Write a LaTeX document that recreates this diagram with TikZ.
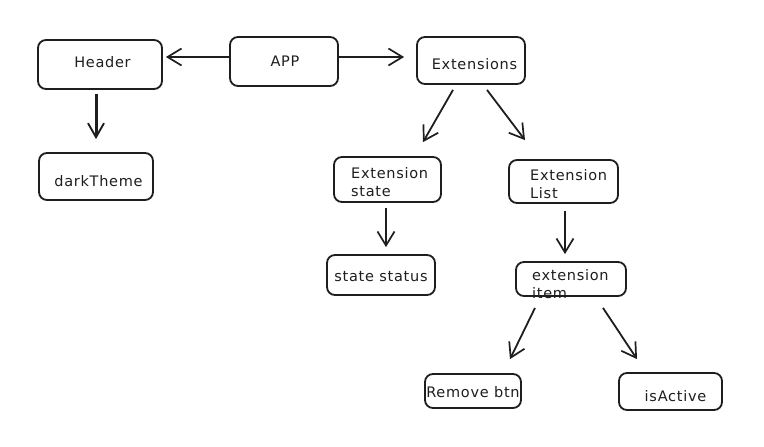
\documentclass[tikz,border=0pt]{standalone}
\usepackage{fontspec}
\setmainfont{DejaVu Sans}[LetterSpace=5]
\usetikzlibrary{arrows.meta}
\definecolor{ink}{HTML}{1E1E1E}
\tikzset{
  box/.style={draw=ink, line width=1.8pt, rounded corners=8pt, inner sep=0pt},
  lbl/.style={inner sep=0pt, text=ink, font=\fontsize{14.5}{18}\selectfont},
  arr/.style={draw=ink, line width=1.8pt, -{Straight Barb[length=14pt,width=17pt,line width=1.7pt]}},
  thickarr/.style={arr, line width=3pt, -{Straight Barb[length=14pt,width=16pt,line width=1.9pt]}}
}
\begin{document}
\begin{tikzpicture}[x=1pt,y=-1pt]
\useasboundingbox[fill=white] (0,0) rectangle (764,447);
% boxes
\node[box, minimum width=124pt, minimum height=49pt] (hdr) at (100,64.5) {};
\node[box, minimum width=108pt, minimum height=49pt] (app) at (284,61.5) {};
\node[box, minimum width=108pt, minimum height=47pt] (ext) at (471,60.5) {};
\node[box, minimum width=114pt, minimum height=47pt] (dk) at (96,176.5) {};
\node[box, minimum width=107pt, minimum height=45pt] (es) at (387.5,179.5) {};
\node[box, minimum width=108pt, minimum height=40pt] (ss) at (381,275) {};
\node[box, minimum width=109pt, minimum height=43pt] (el) at (563.5,181.5) {};
\node[box, minimum width=110pt, minimum height=34pt] (ei) at (571,279) {};
\node[box, minimum width=96pt, minimum height=34pt] (rb) at (473,391) {};
\node[box, minimum width=103pt, minimum height=37pt] (ia) at (670.5,391.5) {};
% texts
\node[lbl] (thdr) at (102.5,62.5) {Header};
\node[lbl] (tapp) at (285,61) {APP};
\node[lbl] (text) at (474.5,64) {Extensions};
\node[lbl] (tdk) at (98.5,181) {darkTheme};
\node[lbl, anchor=west, align=left] (tes) at (351,182) {Extension\\state};
\node[lbl] (tss) at (381,276.5) {state status};
\node[lbl, anchor=west, align=left] (tel) at (530,184.5) {Extension\\List};
\node[lbl, anchor=west, align=left] (tei) at (532,284) {extension\\item};
\node[lbl] (trb) at (473,392.5) {Remove btn};
\node[lbl] (tia) at (675.5,396) {isActive};
% connectors
\draw[arr] ([shift={(0,-4.5)}]app.west) -- ([shift={(3,-7.5)}]hdr.east);
\draw[arr] ([shift={(0,-4.5)}]app.east) -- ([shift={(-12,-3.5)}]ext.west);
\draw[thickarr] ([shift={(-4,4)}]hdr.south) -- ([shift={(0,-13)}]dk.north);
\draw[arr] ([shift={(-18,5)}]ext.south) -- ([shift={(35.5,-14)}]es.north);
\draw[arr] ([shift={(16,5)}]ext.south) -- ([shift={(-38.5,-19)}]el.north);
\draw[arr] ([shift={(-1.5,5)}]es.south) -- ([shift={(5,-7)}]ss.north);
\draw[arr] ([shift={(1.5,7)}]el.south) -- ([shift={(-6,-7)}]ei.north);
\draw[arr] ([shift={(-36,11)}]ei.south) -- ([shift={(37,-14)}]rb.north);
\draw[arr] ([shift={(32,11)}]ei.south) -- ([shift={(-33.5,-13)}]ia.north);
\end{tikzpicture}
\end{document}
